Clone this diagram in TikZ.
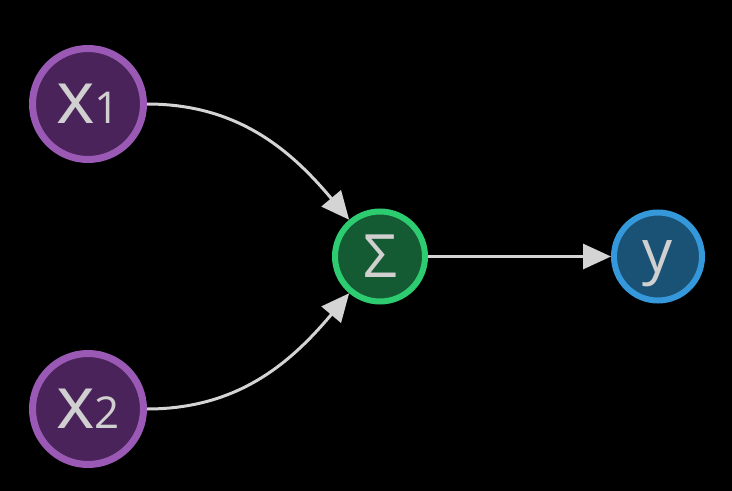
\documentclass[tikz,border=0pt]{standalone}
\usepackage{fontspec}
\setmainfont{Open Sans}
\usetikzlibrary{arrows.meta}
\definecolor{inpfill}{HTML}{4A235A}
\definecolor{inpedge}{HTML}{9B59B6}
\definecolor{sumfill}{HTML}{145A32}
\definecolor{sumedge}{HTML}{2ECC71}
\definecolor{outfill}{HTML}{1A5276}
\definecolor{outedge}{HTML}{3498DB}
\definecolor{lbl}{HTML}{D0D0D0}
\definecolor{wire}{HTML}{D4D4D4}

\begin{document}
\begin{tikzpicture}[
    >={Triangle[length=5.6mm,width=5mm]},
    inp/.style  = {circle, draw=inpedge, fill=inpfill, text=lbl, line width=0.14cm,
                   minimum size=2.22cm, inner sep=0pt,
                   font=\fontsize{42}{42}\selectfont},
    sumnode/.style = {circle, draw=sumedge, fill=sumfill, text=lbl, line width=0.12cm,
                   minimum size=1.8cm, inner sep=0pt,
                   font=\fontsize{34}{34}\selectfont},
    outnode/.style = {circle, draw=outedge, fill=outfill, text=lbl, line width=0.12cm,
                   minimum size=1.76cm, inner sep=0pt, text depth=0pt,
                   font=\fontsize{34}{34}\selectfont},
    wirearr/.style = {draw=wire, line width=0.06cm, ->},
  ]

  % background, fixes the page size
  \fill[black] (0,0) rectangle (14.64,-9.82);

  % inputs
  \node[inp] (x1) at (1.76,-2.08) {x{\fontsize{25}{25}\selectfont 1}};
  \node[inp] (x2) at (1.76,-8.18) {x{\fontsize{25}{25}\selectfont 2}};

  % sum and output
  \node[sumnode] (sum) at (7.6,-5.13) {Σ};
  \node[outnode] (y) at (13.16,-5.13) {y};

  % connections
  \draw[wirearr] (x1.east) to[out=0, in=130] (sum.130);
  \draw[wirearr] (x2.east) to[out=0, in=-130] (sum.-130);
  \draw[wirearr] (sum.east) -- (y.west);

\end{tikzpicture}
\end{document}
